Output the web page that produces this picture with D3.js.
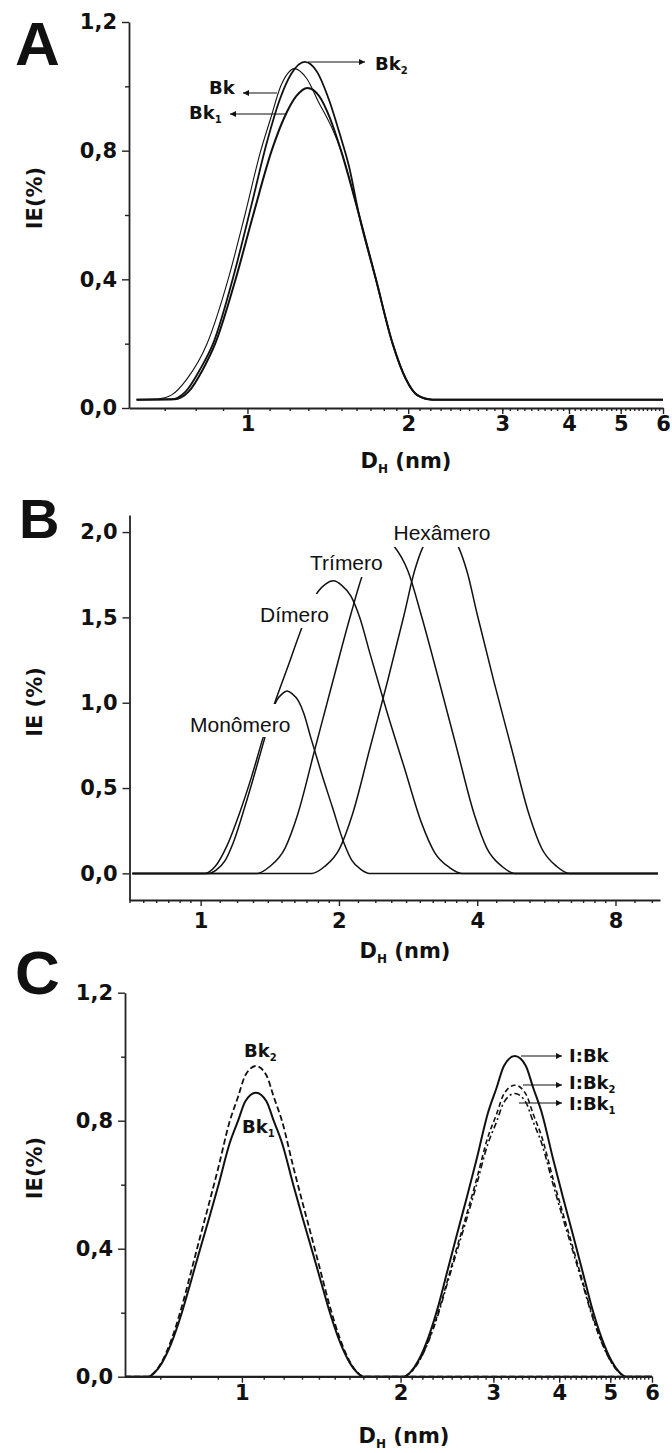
<!DOCTYPE html>
<html><head><meta charset="utf-8">
<script src="https://cdn.jsdelivr.net/npm/d3@7"></script>
<style>body{margin:0;background:#fff}svg{display:block}</style>
</head><body><script>
// ---------------- DATA ----------------
// Panel A
const aXTickValues=[1,2,3,4,5,6];
const aYTickValues=[0,0.4,0.8,1.2];
const aYMinorValues=[0.2,0.6,1.0];
const aBk=[[0.62,0.026],[0.68,0.028],[0.72,0.04],[0.77,0.09],[0.84,0.2],[0.92,0.4],[0.989,0.6],[1.059,0.8],[1.105,0.9],[1.154,1.0],[1.19,1.04],[1.222,1.055],[1.29,1.025],[1.36,0.95],[1.44,0.87],[1.497,0.8],[1.618,0.6],[1.74,0.4],[1.87,0.2],[1.98,0.09],[2.08,0.04],[2.22,0.026],[6.0,0.026]];
const aBk1=[[0.62,0.026],[0.73,0.027],[0.775,0.05],[0.825,0.12],[0.87,0.2],[0.95,0.4],[1.025,0.6],[1.11,0.8],[1.17,0.9],[1.235,0.97],[1.295,0.995],[1.362,0.97],[1.428,0.9],[1.497,0.8],[1.618,0.6],[1.74,0.4],[1.87,0.2],[1.98,0.09],[2.08,0.04],[2.22,0.026],[6.0,0.026]];
const aBk2=[[0.62,0.026],[0.72,0.027],[0.765,0.05],[0.815,0.12],[0.862,0.2],[0.945,0.42],[1.017,0.63],[1.089,0.83],[1.15,0.96],[1.209,1.04],[1.28,1.076],[1.35,1.045],[1.42,0.96],[1.49,0.85],[1.55,0.75],[1.618,0.6],[1.74,0.4],[1.87,0.2],[1.98,0.09],[2.08,0.04],[2.22,0.026],[6.0,0.026]];

// Panel B
const bXTickValues=[1,2,4,8];
const bYTickValues=[0,0.5,1.0,1.5,2.0];
const bLabels=["Monômero","Dímero","Trímero","Hexâmero"];
const bMonomero=[[0.71,0],[1.04,0],[1.082,0.021],[1.132,0.078],[1.178,0.181],[1.247,0.387],[1.314,0.594],[1.381,0.80],[1.425,0.936],[1.463,1.012],[1.504,1.052],[1.542,1.068],[1.583,1.052],[1.631,1.012],[1.678,0.936],[1.735,0.80],[1.829,0.594],[1.936,0.387],[2.049,0.181],[2.132,0.078],[2.239,0.021],[2.33,0],[9.9,0]];
const bDimero=[[0.71,0],[1.021,0],[1.075,0.04],[1.14,0.16],[1.214,0.35],[1.292,0.57],[1.369,0.80],[1.45,1.0],[1.55,1.215],[1.645,1.41],[1.72,1.545],[1.80,1.65],[1.87,1.695],[1.945,1.714],[2.028,1.688],[2.124,1.625],[2.219,1.501],[2.338,1.286],[2.54,0.953],[2.774,0.622],[3.031,0.29],[3.227,0.125],[3.482,0.034],[3.706,0],[9.9,0]];
const bTrimero=[[0.71,0],[1.329,0],[1.414,0.04],[1.526,0.147],[1.625,0.342],[1.775,0.733],[1.939,1.124],[2.121,1.514],[2.266,1.77],[2.428,1.915],[2.532,1.96],[2.639,1.915],[2.828,1.77],[3.021,1.514],[3.306,1.124],[3.61,0.733],[3.945,0.342],[4.199,0.147],[4.532,0.04],[4.823,0],[9.9,0]];
const bHexamero=[[0.71,0],[1.748,0],[1.861,0.04],[2.008,0.147],[2.138,0.342],[2.336,0.733],[2.551,1.124],[2.772,1.514],[2.92,1.77],[3.05,1.915],[3.195,1.99],[3.331,2.02],[3.473,1.99],[3.638,1.915],[3.80,1.77],[4.003,1.514],[4.35,1.124],[4.75,0.733],[5.191,0.342],[5.525,0.147],[5.962,0.04],[6.346,0],[9.9,0]];

// Panel C
const cXTickValues=[1,2,3,4,5,6];
const cYTickValues=[0,0.4,0.8,1.2];
const cYMinorValues=[0.2,0.6,1.0];
const cBk1=[[0.6,0],[0.663,0],[0.683,0.013],[0.7055,0.044],[0.7353,0.1065],[0.7691,0.2],[0.80,0.297],[0.8334,0.40],[0.867,0.497],[0.9029,0.6],[0.9473,0.728],[0.9835,0.80],[1.0151,0.861],[1.063,0.8875],[1.113,0.861],[1.1488,0.80],[1.1928,0.728],[1.2515,0.6],[1.3032,0.497],[1.3555,0.40],[1.4125,0.297],[1.4689,0.2],[1.5363,0.1065],[1.6013,0.044],[1.6538,0.013],[1.7041,0],[6,0]];
const cBk2=[[0.6,0],[0.663,0],[0.683,0.014],[0.7055,0.048],[0.7353,0.117],[0.7691,0.219],[0.80,0.325],[0.8334,0.438],[0.867,0.544],[0.9029,0.656],[0.9473,0.796],[0.9835,0.875],[1.0151,0.942],[1.063,0.971],[1.113,0.942],[1.1488,0.875],[1.1928,0.796],[1.2515,0.656],[1.3032,0.544],[1.3555,0.438],[1.4125,0.325],[1.4689,0.219],[1.5363,0.117],[1.6013,0.048],[1.6538,0.014],[1.7041,0],[6,0]];
const cIBk=[[0.6,0],[2.027,0],[2.09,0.015],[2.161,0.05],[2.255,0.12],[2.362,0.225],[2.459,0.336],[2.566,0.452],[2.672,0.561],[2.786,0.677],[2.927,0.822],[3.043,0.903],[3.143,0.972],[3.296,1.002],[3.456,0.972],[3.57,0.903],[3.711,0.822],[3.899,0.677],[4.066,0.561],[4.234,0.452],[4.418,0.336],[4.599,0.225],[4.817,0.12],[5.026,0.05],[5.197,0.015],[5.359,0],[6,0]];
const cIBk2=[[0.6,0],[2.027,0],[2.09,0.014],[2.161,0.045],[2.255,0.109],[2.362,0.205],[2.459,0.305],[2.566,0.411],[2.672,0.51],[2.786,0.615],[2.927,0.747],[3.043,0.821],[3.143,0.884],[3.296,0.911],[3.456,0.884],[3.57,0.821],[3.711,0.747],[3.899,0.615],[4.066,0.51],[4.234,0.411],[4.418,0.305],[4.599,0.205],[4.817,0.109],[5.026,0.045],[5.197,0.014],[5.359,0],[6,0]];
const cIBk1=[[0.6,0],[2.027,0],[2.09,0.013],[2.161,0.044],[2.255,0.106],[2.362,0.199],[2.459,0.297],[2.566,0.399],[2.672,0.495],[2.786,0.598],[2.927,0.726],[3.043,0.797],[3.143,0.858],[3.296,0.885],[3.456,0.858],[3.57,0.797],[3.711,0.726],[3.899,0.598],[4.066,0.495],[4.234,0.399],[4.418,0.297],[4.599,0.199],[4.817,0.106],[5.026,0.044],[5.197,0.013],[5.359,0],[6,0]];

// ---------------- DRAWING ----------------
const W=672,H=1453;
const TICKFONT="'DejaVu Sans', sans-serif";
const LBLFONT="'Liberation Sans', Arial, sans-serif";
const INK="#111";
const fmt=v=>d3.format(".1f")(v).replace(".",",");
const svg=d3.select("body").append("svg").attr("width",W).attr("height",H).style("background","#fff");
svg.append("rect").attr("width",W).attr("height",H).attr("fill","#fff");
const defs=svg.append("defs");
defs.append("marker").attr("id","arr").attr("viewBox","0 0 10 10").attr("refX",10).attr("refY",5)
  .attr("markerWidth",8).attr("markerHeight",6).attr("markerUnits","userSpaceOnUse").attr("orient","auto")
  .append("path").attr("d","M0,0L10,5L0,10z").attr("fill",INK);

const decMinor=[];
[[0.6,1,0.1],[1,2,0.1],[2,6,0.1]].forEach(([a,b,s])=>{for(let v=a+s;v<b-1e-9;v+=s)decMinor.push(+v.toFixed(2));});
const oct2Minor=[];
[0.5,1,2,4,8].forEach(b=>{for(let i=1;i<=9;i++){const v=+(b*(1+i/10)).toFixed(3);if(v>=0.7&&v<=10)oct2Minor.push(v);}});

function drawAxes(g,x,y,o){
  const x0=x.range()[0];
  g.append("g").attr("transform",`translate(${x0},0)`)
    .call(d3.axisLeft(y).tickValues(o.yTicks).tickSize(7).tickSizeOuter(0).tickPadding(5).tickFormat(fmt));
  if(o.yMinor) g.append("g").attr("transform",`translate(${x0},0)`)
    .call(d3.axisLeft(y).tickValues(o.yMinor).tickSize(4).tickSizeOuter(0).tickFormat(""))
    .call(s=>s.select(".domain").remove());
  g.append("g").attr("transform",`translate(0,${o.xAxisY})`)
    .call(d3.axisBottom(x).tickValues(o.xTicks).tickSize(6).tickSizeOuter(0).tickPadding(o.xPad).tickFormat(d3.format("d")));
  g.append("g").attr("transform",`translate(0,${o.xAxisY})`)
    .call(d3.axisBottom(x).tickValues(o.xMinor).tickSize(3).tickSizeOuter(0).tickFormat(""))
    .call(s=>s.select(".domain").remove());
  g.selectAll(".domain").attr("stroke","#222").attr("stroke-width",1.8);
  g.selectAll(".tick line").attr("stroke","#222").attr("stroke-width",1.4);
  g.selectAll(".tick text").attr("font-family",TICKFONT).attr("font-weight","bold").attr("font-size",21).attr("fill",INK);
}
function xTitle(g,cx,base){
  const t=g.append("text").attr("x",cx).attr("y",base).attr("text-anchor","middle")
    .attr("font-family",TICKFONT).attr("font-weight","bold").attr("font-size",21).attr("fill",INK);
  t.append("tspan").text("D");
  t.append("tspan").attr("font-size",12).attr("dy",5).text("H");
  t.append("tspan").attr("dy",-5).text(" (nm)");
}
function yTitle(g,bx,cy,txt){
  g.append("text").attr("transform",`translate(${bx},${cy}) rotate(-90)`).attr("text-anchor","middle")
    .attr("font-family",TICKFONT).attr("font-weight","bold").attr("font-size",21).attr("fill",INK).text(txt);
}
function letter(g,x,y,s,txt){
  g.append("text").attr("x",x).attr("y",y).attr("font-family",LBLFONT).attr("font-weight","bold")
   .attr("font-size",s).attr("fill",INK).text(txt);
}
function subLabel(g,x,y,main,sub){
  const t=g.append("text").attr("x",x).attr("y",y).attr("font-family",TICKFONT).attr("font-weight","bold")
    .attr("font-size",18).attr("fill",INK);
  t.append("tspan").text(main);
  if(sub){t.append("tspan").attr("font-size",10).attr("dy",4).text(sub);}
}
function arrow(g,x1,y1,x2,y2){
  g.append("line").attr("x1",x1).attr("y1",y1).attr("x2",x2).attr("y2",y2)
   .attr("stroke",INK).attr("stroke-width",1.2).attr("marker-end","url(#arr)");
}
const mkLine=(x,y)=>d3.line().x(d=>x(d[0])).y(d=>y(d[1])).curve(d3.curveMonotoneX);

// ---- Panel A ----
{
  const g=svg.append("g");
  const x=d3.scaleLog().domain([0.6,6]).range([129,663]);
  const y=d3.scaleLinear().domain([0,1.2]).range([408,22]);
  const ln=mkLine(x,y);
  g.append("path").datum(aBk).attr("d",ln).attr("fill","none").attr("stroke",INK).attr("stroke-width",1.1);
  g.append("path").datum(aBk1).attr("d",ln).attr("fill","none").attr("stroke",INK).attr("stroke-width",2);
  g.append("path").datum(aBk2).attr("d",ln).attr("fill","none").attr("stroke",INK).attr("stroke-width",1.8);
  drawAxes(g,x,y,{yTicks:aYTickValues,yMinor:aYMinorValues,xTicks:aXTickValues,xMinor:decMinor,xAxisY:408,xPad:2});
  xTitle(g,406,468);
  yTitle(g,42,198,"IE(%)");
  letter(g,15,65,62,"A");
  arrow(g,308,62,365,62); subLabel(g,375,70,"Bk","2");
  arrow(g,277,93,243,93); subLabel(g,209,94,"Bk");
  arrow(g,287,114,230,114); subLabel(g,189,119,"Bk","1");
}
// ---- Panel B ----
{
  const g=svg.append("g");
  const x=d3.scaleLog().base(2).domain([0.7,10]).range([129.5,660]);
  const y=d3.scaleLinear().domain([-0.156,2.1]).range([900,515]);
  const ln=mkLine(x,y);
  [bMonomero,bDimero,bTrimero,bHexamero].forEach(s=>
    g.append("path").datum(s).attr("d",ln).attr("fill","none").attr("stroke",INK).attr("stroke-width",1.5));
  drawAxes(g,x,y,{yTicks:bYTickValues,yMinor:null,xTicks:bXTickValues,xMinor:oct2Minor,xAxisY:900,xPad:7});
  xTitle(g,405,958);
  yTitle(g,42,702,"IE (%)");
  letter(g,19,538,56,"B");
  const boxes=[[187,704,109,33,190,731.7],[256,594,78,34,260,621.7],[306,540,83,37,310,570],[372,515,128,32,393.5,540]];
  boxes.forEach((b,i)=>{
    g.append("rect").attr("x",b[0]).attr("y",b[1]).attr("width",b[2]).attr("height",b[3]).attr("fill","#fff");
    g.append("text").attr("x",b[4]).attr("y",b[5]).attr("font-family",LBLFONT).attr("font-size",21)
      .attr("fill",INK).text(bLabels[i]);
  });
}
// ---- Panel C ----
{
  const g=svg.append("g");
  const x=d3.scaleLog().domain([0.6,6]).range([125,652]);
  const y=d3.scaleLinear().domain([0,1.2]).range([1376.7,992.7]);
  const ln=mkLine(x,y);
  const series=[[cBk2,"6,3",1.8],[cBk1,null,2],[cIBk2,"5,3",1.6],[cIBk1,"6,3,2,3",1.6],[cIBk,null,2]];
  series.forEach(([d,dash,w])=>{
    const p=g.append("path").datum(d).attr("d",ln).attr("fill","none").attr("stroke",INK).attr("stroke-width",w);
    if(dash)p.attr("stroke-dasharray",dash);
  });
  drawAxes(g,x,y,{yTicks:cYTickValues,yMinor:cYMinorValues,xTicks:cXTickValues,xMinor:decMinor,xAxisY:1376.7,xPad:2});
  xTitle(g,404,1443);
  yTitle(g,42,1168,"IE(%)");
  letter(g,15,994,62,"C");
  subLabel(g,244,1057,"Bk","2");
  subLabel(g,242,1133,"Bk","1");
  arrow(g,521,1056,562,1056); subLabel(g,569,1062,"I:Bk");
  arrow(g,523,1085,562,1085); subLabel(g,569,1089,"I:Bk","2");
  arrow(g,519,1103,562,1103); subLabel(g,569,1110,"I:Bk","1");
}
</script></body></html>
